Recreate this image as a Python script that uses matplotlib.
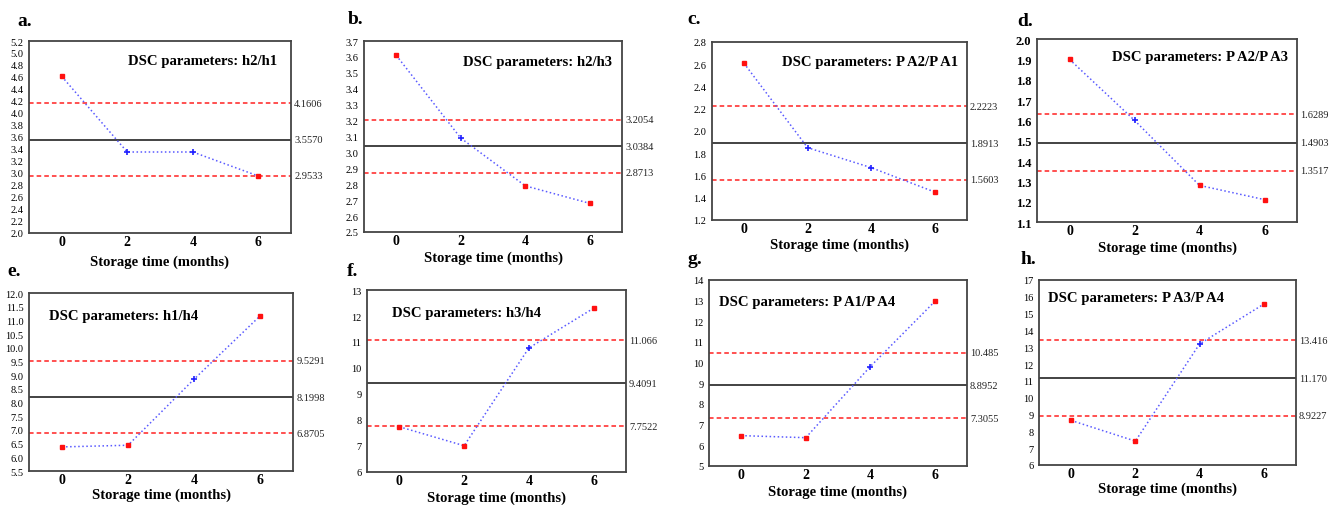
import matplotlib
matplotlib.use("Agg")
import matplotlib.pyplot as plt
import numpy as np

W, H = 1338, 506

months = [0, 2, 4, 6]

# series values (ratio of DSC parameters)
h2_h1 = [4.61, 3.35, 3.35, 2.95]
h2_h3 = [3.61, 3.09, 2.79, 2.68]
pa2_pa1 = [2.61, 1.85, 1.67, 1.45]
pa2_pa3 = [1.90, 1.60, 1.28, 1.21]
h1_h4 = [6.38, 6.44, 8.85, 11.16]
h3_h4 = [7.74, 7.01, 10.77, 12.30]
pa1_pa4 = [6.47, 6.37, 9.81, 12.96]
pa3_pa4 = [8.65, 7.42, 13.20, 15.57]

# control limits: UCL, CL, LCL (values and printed labels)
lim_h2_h1 = [4.1606, 3.5570, 2.9533]
lim_h2_h3 = [3.2054, 3.0384, 2.8713]
lim_pa2_pa1 = [2.2223, 1.8913, 1.5603]
lim_pa2_pa3 = [1.6289, 1.4903, 1.3517]
lim_h1_h4 = [9.5291, 8.1998, 6.8705]
lim_h3_h4 = [11.066, 9.4091, 7.7522]
lim_pa1_pa4 = [10.485, 8.8952, 7.3055]
lim_pa3_pa4 = [13.416, 11.170, 8.9227]

lab_h2_h1 = ["4.1606", "3.5570", "2.9533"]
lab_h2_h3 = ["3.2054", "3.0384", "2.8713"]
lab_pa2_pa1 = ["2.2223", "1.8913", "1.5603"]
lab_pa2_pa3 = ["1.6289", "1.4903", "1.3517"]
lab_h1_h4 = ["9.5291", "8.1998", "6.8705"]
lab_h3_h4 = ["11.066", "9.4091", "7.7522"]
lab_pa1_pa4 = ["10.485", "8.8952", "7.3055"]
lab_pa3_pa4 = ["13.416", "11.170", "8.9227"]

titles = ["DSC parameters: h2/h1", "DSC parameters: h2/h3",
          "DSC parameters: P A2/P A1", "DSC parameters: P A2/P A3",
          "DSC parameters: h1/h4", "DSC parameters: h3/h4",
          "DSC parameters: P A1/P A4", "DSC parameters: P A3/P A4"]
letters = ["a.", "b.", "c.", "d.", "e.", "f.", "g.", "h."]
xlabel = "Storage time (months)"

series = [h2_h1, h2_h3, pa2_pa1, pa2_pa3, h1_h4, h3_h4, pa1_pa4, pa3_pa4]
limits = [lim_h2_h1, lim_h2_h3, lim_pa2_pa1, lim_pa2_pa3,
          lim_h1_h4, lim_h3_h4, lim_pa1_pa4, lim_pa3_pa4]
limlabels = [lab_h2_h1, lab_h2_h3, lab_pa2_pa1, lab_pa2_pa3,
             lab_h1_h4, lab_h3_h4, lab_pa1_pa4, lab_pa3_pa4]
yranges = [(2.0, 5.2, 0.2), (2.5, 3.7, 0.1), (1.2, 2.8, 0.2), (1.1, 2.0, 0.1),
           (5.5, 12.0, 0.5), (6, 13, 1), (5, 14, 1), (6, 17, 1)]
yfmt = ["%.1f", "%.1f", "%.1f", "%.1f", "%.1f", "%d", "%d", "%d"]

# layout (pixels): left, top, right, bottom
boxes = [(29, 42, 291, 234), (364, 42, 622, 233), (712, 43, 967, 221), (1037, 40, 1297, 223),
         (29, 294, 293, 472), (367, 291, 626, 473), (709, 281, 967, 467), (1039, 281, 1296, 466)]
title_pos = [(0.378, 0.896), (0.384, 0.895), (0.275, 0.893), (0.29, 0.907),
             (0.076, 0.871), (0.097, 0.879), (0.04, 0.887), (0.035, 0.908)]
letter_pos = [(17, 21), (348, 20), (687, 20), (1017, 22),
              (7, 272), (347, 272), (687, 260), (1021, 260)]
xlabel_y = [262, 258, 245, 248, 495, 498, 492, 489]

plt.rcParams['font.family'] = ['Liberation Serif', 'DejaVu Serif']

fig = plt.figure(figsize=(W / 100, H / 100), dpi=100)

for i in range(8):
    l, t, r, b = boxes[i]
    ax = fig.add_axes([l / W, 1 - b / H, (r - l) / W, (b - t) / H])
    y0, y1, st = yranges[i]
    ax.set_xlim(-1, 7)
    ax.set_ylim(y0, y1)
    ucl, cl, lcl = limits[i]
    ax.axhline(ucl, color='#ff2020', ls=(0, (3, 2)), lw=1.1)
    ax.axhline(lcl, color='#ff2020', ls=(0, (3, 2)), lw=1.1)
    ax.axhline(cl, color='#222222', lw=1.2)
    vals = series[i]
    ax.plot(months, vals, color='#5a5aff', ls=':', lw=1.1)
    for xm, v in zip(months, vals):
        if v >= ucl or v <= lcl:
            ax.plot(xm, v, 's', ms=3, color='#ff1010', mec='#ff1010')
        else:
            ax.plot(xm, v, '+', ms=5, mew=1.2, color='#2020ff')
    ticks = np.arange(y0, y1 + st / 2, st)
    ax.set_yticks(ticks)
    ax.set_yticklabels([yfmt[i] % tv for tv in ticks],
                       fontsize=7.5 if i != 3 else 9,
                       fontweight='bold' if i == 3 else 'normal')
    ax.set_xticks(months)
    ax.set_xticklabels([str(m) for m in months], fontsize=10, fontweight='bold')
    ax.tick_params(axis='x', length=0, pad=1.5)
    ax.tick_params(axis='y', length=0, pad=4)
    for sp in ax.spines.values():
        sp.set_color('#444444')
        sp.set_linewidth(1.3)
    for yv, txt in zip(limits[i], limlabels[i]):
        ax.text(1.012, yv, txt, transform=ax.get_yaxis_transform(),
                fontsize=7.5, va='center', ha='left', color='#222222')
    ax.text(title_pos[i][0], title_pos[i][1], titles[i], transform=ax.transAxes,
            fontsize=10.6, fontweight='bold', va='center', ha='left')
    lx, ly = letter_pos[i]
    fig.text(lx / W, 1 - ly / H, letters[i], fontsize=14, fontweight='bold',
             va='center', ha='left')
    fig.text(((l + r) / 2) / W, 1 - xlabel_y[i] / H, xlabel, fontsize=10.5,
             fontweight='bold', va='center', ha='center')

fig.savefig("out.png", dpi=100)
